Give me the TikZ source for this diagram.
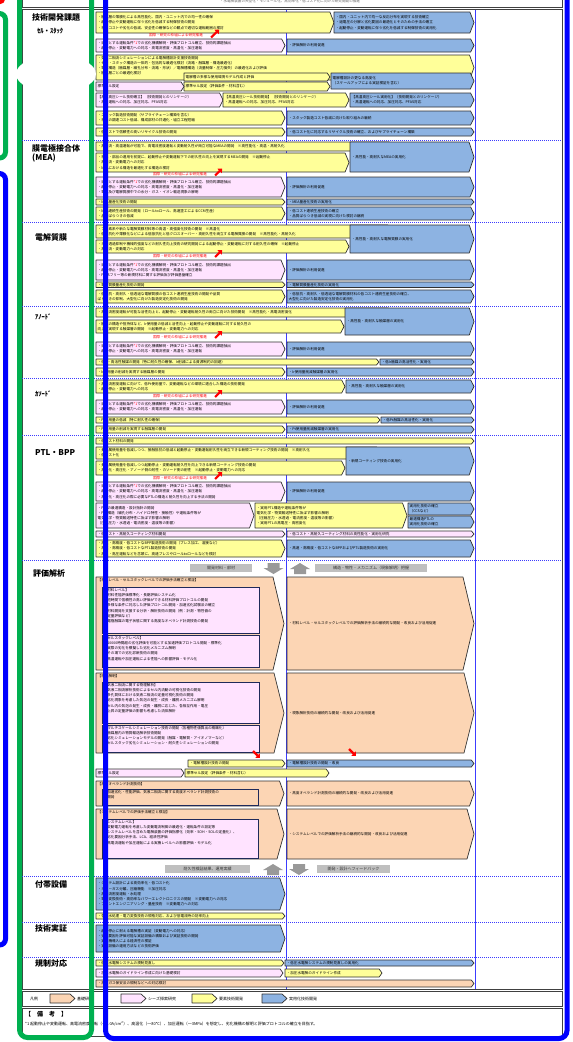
\documentclass[tikz,border=0pt]{standalone}
\usepackage{fontspec}
\newfontfamily\jp{Noto Sans CJK JP}
\usetikzlibrary{arrows.meta}
\XeTeXlinebreaklocale "ja"
\XeTeXlinebreakskip=0pt plus 0.5pt

\definecolor{rmyellow}{HTML}{FFFF99}
\definecolor{rmpink}{HTML}{FFE3FF}
\definecolor{rmblue}{HTML}{8DB3E2}
\definecolor{rmorange}{HTML}{FCD5B4}
\definecolor{boxline}{HTML}{303030}
\definecolor{subline}{HTML}{1F2A5A}
\definecolor{colblue}{HTML}{3C3CFF}
\definecolor{ovgreen}{HTML}{00B050}
\definecolor{ovblue}{HTML}{0000FF}

\tikzset{
  base/.style={draw=boxline, line width=0.7pt, line join=round},
  kiso/.style={base, fill=rmorange},
  seeds/.style={base, fill=rmpink},
  yoso/.style={base, fill=rmyellow},
  jitsuyo/.style={base, fill=rmblue},
  subbox/.style={draw=subline, line width=0.7pt, fill=rmpink},
  subkiso/.style={draw=subline, line width=0.7pt, fill=rmorange},
  boxtext/.style={inner sep=0pt, align=left, font=\jp\fontsize{3.6}{5.2}\selectfont, text=black},
  redlbl/.style={inner sep=0pt, font=\jp\fontsize{3.6}{4}\selectfont, text=red},
  redarr/.style={draw=red, line width=2.2pt, -{Triangle[length=3.5pt,width=6pt]}},
  graylbl/.style={fill=black!25, inner sep=0pt, minimum height=8pt, font=\jp\fontsize{4}{5}\selectfont, text=black!80},
  grayarr/.style={fill=black!40},
  catlbl/.style={inner sep=0pt, align=left, font=\jp\fontsize{8}{9.5}\selectfont\bfseries},
  sublbl/.style={inner sep=0pt, font=\jp\fontsize{6.5}{7}\selectfont\bfseries},
  legtext/.style={inner sep=0pt, font=\jp\fontsize{4}{5}\selectfont},
  tableframe/.style={draw=black!75, line width=0.6pt},
  colline/.style={draw=colblue, line width=0.6pt},
  sepline/.style={draw=colblue, line width=0.6pt, dash pattern=on 1pt off 1pt}
}

\newcounter{rmbox}
\newcommand{\rmbox}[6]{%
  \stepcounter{rmbox}%
  \pgfmathsetmacro{\rmtip}{min(2+0.1*(#5-#3),11)}%
  \pgfmathsetmacro{\rmtw}{#4-#2-\rmtip-2.5}%
  \draw[#1] (#2,#3) -- ({#4-\rmtip},#3) -- (#4,{(#3+#5)/2}) -- ({#4-\rmtip},#5) -- (#2,#5) -- cycle;
  \node[boxtext, text width=\rmtw pt, anchor=west] (box\arabic{rmbox}) at ({#2+1.5},{(#3+#5)/2}) {#6};
}
\newcommand{\rmboxtop}[6]{%
  \stepcounter{rmbox}%
  \pgfmathsetmacro{\rmtip}{min(2+0.1*(#5-#3),11)}%
  \pgfmathsetmacro{\rmtw}{#4-#2-\rmtip-2.5}%
  \draw[#1] (#2,#3) -- ({#4-\rmtip},#3) -- (#4,{(#3+#5)/2}) -- ({#4-\rmtip},#5) -- (#2,#5) -- cycle;
  \node[boxtext, text width=\rmtw pt, anchor=north west] (box\arabic{rmbox}) at ({#2+1.5},{#3+1}) {#6};
}
\newcommand{\rmsub}[6]{%
  \stepcounter{rmbox}%
  \pgfmathsetmacro{\rmtw}{#4-#2-3}%
  \draw[#1] (#2,#3) rectangle (#4,#5);
  \node[boxtext, text width=\rmtw pt, anchor=north west] (box\arabic{rmbox}) at ({#2+1.5},{#3+1}) {#6};
}
\newcommand{\legbox}[3]{%
  \stepcounter{rmbox}%
  \draw[#1] (#2,994) -- ({#2+20},994) -- ({#2+25},998.5) -- ({#2+20},1003) -- (#2,1003) -- cycle;
  \node[legtext, anchor=west] (leg\arabic{rmbox}) at ({#2+27},998.5) {#3};
}
\newcommand{\graydown}[3]{%
  \fill[grayarr] ({#1-6},#2) -- ({#1+6},#2) -- ({#1+6},{#2+5}) -- ({#1+10},{#2+5}) -- (#1,#3) -- ({#1-10},{#2+5}) -- ({#1-6},{#2+5}) -- cycle;
}
\newcommand{\grayup}[3]{%
  \fill[grayarr] ({#1-6},#3) -- ({#1+6},#3) -- ({#1+6},{#3-5}) -- ({#1+10},{#3-5}) -- (#1,#2) -- ({#1-10},{#3-5}) -- ({#1-6},{#3-5}) -- cycle;
}
\newcommand{\goal}{・目標とする運転条件\textcolor{red}{*1}での劣化機構解明・評価プロトコル確立、技術的課題抽出\\・起動停止・変動電力への対応・高電流密度・高温化・加圧運転}

\begin{document}
\begin{tikzpicture}[x=1pt, y=-1pt]
\useasboundingbox (0,0) rectangle (573,1042);

% table
\draw[tableframe] (22,-5) rectangle (562,7);
\node[boxtext, text=black!60, anchor=center] (head) at (290,1.5) {・水電解装置の大型化・モジュール化、高効率化・低コスト化に向けた研究開発の推進};
\draw[tableframe] (22,9.5) rectangle (562,989);
\draw[colline] (93,9.5) -- (93,989);
\draw[colline] (286,9.5) -- (286,989);
\draw[colline] (475,9.5) -- (475,989);
\foreach \y in {140,222,306,378,435,560,876,922,957}
  \draw[sepline] (22,\y) -- (562,\y);

% categories
\node[catlbl, anchor=west] (cat0) at (32,17) {技術開発課題};
\node[sublbl, anchor=west] (cat1) at (37,31) {ｾﾙ・ｽﾀｯｸ};
\node[catlbl, anchor=north west] (cat2) at (32,144) {膜電極接合体\\(MEA)};
\node[catlbl, anchor=west] (cat3) at (35,237) {電解質膜};
\node[sublbl, anchor=west] (cat4) at (35,317) {ｱﾉｰﾄﾞ};
\node[sublbl, anchor=west] (cat5) at (35,394) {ｶｿｰﾄﾞ};
\node[catlbl, anchor=west] (cat6) at (35,453) {PTL・BPP};
\node[catlbl, anchor=west] (cat7) at (33,573) {評価解析};
\node[catlbl, anchor=west] (cat8) at (35,884) {付帯設備};
\node[catlbl, anchor=west] (cat9) at (35,928) {技術実証};
\node[catlbl, anchor=west] (cat10) at (35,963) {規制対応};

% cell / stack
\rmbox{yoso}{96}{12}{334}{33}{・触媒層の薄膜化による高性能化、国内・ユニット内での均一性の確保\\・起動停止や変動運転に伴う劣化を低減する制御技術の開発\\・材料コストや劣化の低減、安全性の確保などの観点で適切な運転範囲の検討}
\rmbox{jitsuyo}{334}{12}{474}{33}{・国内・ユニット内で均一な反応分布を実現する技術確立\\・過電圧の分解と劣化要因の最適化とそのための手法の確立\\・起動停止・変動運転に伴う劣化を低減する制御技術の実用化}
\node[redlbl] (red1) at (176,35.5) {国際・研究の枠組による研究推進};
\draw[redarr] ([xshift=8pt,yshift=-2pt]red1.east) -- ++(8,-8);
\rmbox{seeds}{96}{39}{285}{52}{\goal}
\rmbox{jitsuyo}{287}{39}{474}{52}{・評価解析の利用促進}
\rmboxtop{yoso}{96}{55}{474}{80}{・気液二相流シミュレーションによる電解槽設計支援技術開発\\・セル・スタック構造の一体的・包括的な最適化検討（流路・触媒層・構造最適化）\\・電解構造（触媒層・細孔分布・流路・形状）／電解槽構造（流量制御・圧力損失）の最適化および評価\\・触媒層ごとの最適化検討}
\rmbox{yoso}{184}{73}{330}{81}{電解槽の多様な使用環境モデル作成と評価}
\rmbox{yoso}{184}{82}{330}{91}{標準セル設定（評価条件・材料含む）}
\rmbox{seeds}{96}{82}{184}{91}{標準セル設定}
\rmbox{jitsuyo}{331}{73}{474}{89}{電解槽設計の更なる高度化\\（スケールアップによる実証検証を含む）}
\rmbox{seeds}{96}{93}{223}{107}{【高温高圧シール技術確立】（技術開発とのリンケージ）\\・高温運転への対応、加圧対応、PFAS対応}
\rmbox{yoso}{223}{93}{349}{107}{【高温高圧シール技術開発】（技術開発とのリンケージ）\\・高温運転への対応、加圧対応、PFAS対応}
\rmbox{jitsuyo}{350}{93}{474}{107}{【高温高圧シール実用化】（技術開発とのリンケージ）\\・高温運転への対応、加圧対応、PFAS対応}
\rmbox{yoso}{96}{111}{285}{125}{・スタック製造技術開発（サプライチェーン構築を含む）\\・材料の調達コスト低減、構成部材の共通化・組立工程短縮}
\rmbox{jitsuyo}{287}{111}{474}{125}{・スタック製造コスト低減に向けた取り組みの継続}
\rmbox{yoso}{96}{128}{285}{136}{・低コストで信頼性の高いリサイクル技術の開発}
\rmbox{jitsuyo}{287}{128}{474}{136}{・低コスト化に対応するリサイクル技術の確立、およびサプライチェーン構築}

% MEA
\rmbox{yoso}{96}{142}{392}{151}{・高電流・高温運転が可能で、高電流密度運転と変動耐久性が両立可能なMEAの開発　※高性能化・高温・高耐久化}
\rmbox{yoso}{96}{153}{349}{172}{・材料・部品の適用を前提に、起動停止や変動運転下での耐久性の向上を実現するMEAの開発　※起動停止\\・高電流・変動電力への対応\\・MEAにおける構造を最適化する構造の検討}
\rmbox{jitsuyo}{350}{142}{474}{172}{・高性能・高耐久なMEAの実用化}
\node[redlbl] (red2) at (180,174.5) {国際・研究の枠組による研究推進};
\draw[redarr] ([xshift=8pt,yshift=-1pt]red2.east) -- ++(7,-7);
\rmbox{seeds}{96}{177}{285}{197}{\goal\\・電極及び電解質膜中での水分・ガス・イオン輸送現象の解明}
\rmbox{jitsuyo}{287}{177}{474}{197}{・評価解析の利用促進}
\rmbox{yoso}{96}{199}{285}{205}{・MEA量産化技術の開発}
\rmbox{jitsuyo}{287}{199}{474}{205}{・MEA量産化技術の実用化}
\rmbox{yoso}{96}{207}{285}{220}{・MEA連続生産技術の開発（ロールtoロール、高速塗工によるCCM生産）\\・品質ばらつきの低減}
\rmbox{jitsuyo}{287}{207}{474}{220}{・低コスト連続生産技術の確立\\・品質ばらつき低減の実現に向けた検討の継続}

% membrane
\rmbox{yoso}{96}{225}{391}{238}{・フッ素系や新たな電解質膜材料等の高温・高強度化技術の開発　※高温化\\・低抵抗化や薄膜化などによる低抵抗化と低クロスオーバー・高耐久性を両立する電解質膜の開発　※高性能化・高耐久化}
\rmbox{yoso}{96}{240}{349}{253}{・ガス透過抑制や機械的強度などの耐久性向上技術の研究開発による起動停止・変動運転に対する耐久性の確保　※起動停止\\・高電流・変動電力への対応}
\rmbox{jitsuyo}{350}{225}{474}{253}{・高性能・高耐久な電解質膜の実用化}
\node[redlbl] (red3) at (180,256) {国際・研究の枠組による研究推進};
\draw[redarr] ([xshift=8pt,yshift=-1pt]red3.east) -- ++(7,-7);
\rmbox{seeds}{96}{260}{285}{280}{\goal\\・PFASフリー等の新規材料に関する評価及び評価基盤確立}
\rmbox{jitsuyo}{287}{260}{474}{280}{・評価解析の利用促進}
\rmbox{yoso}{96}{282}{285}{287.5}{・電解質膜量産化技術の開発}
\rmbox{jitsuyo}{287}{282}{474}{287.5}{・電解質膜量産化技術の実用化}
\rmbox{yoso}{96}{290}{285}{303}{・低抵抗・高耐久・低透過な電解質膜の低コスト連続生産技術の開発や品質\\ばらつきの抑制、大型化に向けた製造安定化技術の開発}
\rmbox{jitsuyo}{287}{290}{474}{303}{・低抵抗・高耐久・低透過な電解質膜材料の低コスト連続生産技術の確立、\\大型化に向けた製造安定化技術の実用化}

% anode
\rmbox{yoso}{96}{308}{391}{317}{・高電流密度運転が可能な活性向上と、起動停止・変動運転耐久性の両立に向けた技術開発　※高性能化・高電流密度化}
\rmbox{yoso}{96}{320}{344}{333}{・触媒の構造や担持体など、Ir使用量の低減と活性向上・起動停止や変動運転に対する耐久性の\\向上を実現する触媒層の開発　※起動停止・変動電力への対応}
\rmbox{jitsuyo}{345}{308}{474}{335}{・高性能・高耐久な触媒層の実用化}
\node[redlbl] (red4) at (180,337) {国際・研究の枠組による研究推進};
\draw[redarr] ([xshift=8pt,yshift=-1pt]red4.east) -- ++(7,-7);
\rmbox{seeds}{96}{342}{285}{356}{\goal}
\rmbox{jitsuyo}{287}{342}{474}{356}{・評価解析の利用促進}
\rmbox{yoso}{96}{359}{379}{365}{・低Ir・高活性触媒の開発（特に耐久性の確保、Ir削減による資源制約の回避）}
\rmbox{jitsuyo}{380}{359}{474}{365}{・低Ir触媒の高活性化・実用化}
\rmbox{yoso}{96}{368}{285}{376}{・Ir使用量の削減を実現する触媒層の開発}
\rmbox{jitsuyo}{287}{368}{474}{376}{・Ir使用量削減触媒層の実用化}

% cathode
\rmbox{yoso}{96}{380}{345}{393}{・高電流密度運転に向けて、低Pt使用量で、変動運転などの環境に適合した構造の技術開発\\・起動停止・変動電力への対応}
\rmbox{jitsuyo}{346}{380}{474}{393}{・高性能・高耐久な触媒層の実用化}
\node[redlbl] (red5) at (180,396) {国際・研究の枠組による研究推進};
\draw[redarr] ([xshift=8pt,yshift=-1pt]red5.east) -- ++(7,-7);
\rmbox{seeds}{96}{400}{285}{414}{\goal}
\rmbox{jitsuyo}{287}{400}{474}{414}{・評価解析の利用促進}
\rmbox{yoso}{96}{417}{380}{423}{・Pt使用量の低減（特に耐久性の確保）}
\rmbox{jitsuyo}{381}{417}{474}{423}{・低Pt触媒の高活性化・実用化}
\rmbox{yoso}{96}{426}{285}{433}{・Pt使用量の削減を実現する触媒層の開発}
\rmbox{jitsuyo}{287}{426}{474}{433}{・Pt使用量削減触媒層の実用化}

% PTL / BPP
\rmbox{yoso}{96}{438}{474}{444}{・低コスト材料の開発}
\rmbox{yoso}{96}{447}{380}{459}{・貴金属使用量を低減しつつ、接触抵抗の低減と起動停止・変動運転耐久性を両立できる新規コーティング技術の開発　※高耐久化\\・低コスト化}
\rmbox{yoso}{96}{461}{345}{475}{・貴金属使用量を低減しつつ起動停止・変動運転耐久性を向上できる新規コーティング技術の開発\\・高温化・高圧化・アノード側の耐性・カソード側の耐性　※起動停止・変動電力への対応}
\rmbox{jitsuyo}{346}{447}{474}{475}{・新規コーティング技術の実用化}
\node[redlbl] (red6) at (180,478) {国際・研究の枠組による研究推進};
\draw[redarr] ([xshift=8pt,yshift=-1pt]red6.east) -- ++(7,-7);
\rmbox{seeds}{96}{482}{285}{501}{\goal\\・高温化・高圧化の際に必要なPTLの構造と耐久性を向上する手法の開発}
\rmbox{jitsuyo}{287}{482}{474}{501}{・評価解析の利用促進}
\rmbox{seeds}{96}{503}{254}{528}{・PTLの最適構造・設計指針の開発\\・PTL構造（細孔分布・ハイドロ特性・接触性）や運転条件等が\\電気化学・物質輸送特性に及ぼす影響の解明\\（圧縮圧力・水透過・電流密度・温度等の影響）}
\rmbox{yoso}{255}{503}{407}{528}{・実用PTL構造や運転条件等が\\電気化学・物質輸送特性に及ぼす影響の解明\\（圧縮圧力・水透過・電流密度・温度等の影響）\\・実用PTLの高電圧・高密度化}
\rmbox{jitsuyo}{408}{503}{474}{515}{実用化技術の確立\\（CCSなど）}
\rmbox{jitsuyo}{408}{516}{474}{528}{最適構造PTLの\\実用化技術の確立}
\rmbox{seeds}{96}{531}{285}{537}{・低コスト・高耐久コーティング材料開発}
\rmbox{seeds}{287}{531}{474}{537}{・低コスト・高耐久コーティング材料の高性能化・実用化研究}
\rmbox{yoso}{96}{540}{285}{557}{・高速・高精度・低コストなBPP製造技術の開発（プレス加工、溶接など）\\・高速・高精度・低コストなPTL製造技術の開発\\・高温・高圧運転などを念頭に、高速プレスやロールtoロールなどを検討}
\rmbox{jitsuyo}{287}{540}{474}{557}{・高速・高精度・低コストなBPPおよびPTL製造技術の実用化}

% evaluation
\node[graylbl, minimum width=62pt] (gray1) at (221,568) {開発材料・部材};
\graydown{273.5}{563}{574}
\grayup{300}{563}{574}
\node[graylbl, minimum width=112pt] (gray2) at (371,568) {構造・物性・メカニズム（現象解明）把握};
\rmboxtop{kiso}{96}{577}{284}{670}{【材料レベル・セルスタックレベルでの評価手法確立と検証】}
\rmsub{subbox}{102}{587}{259}{633}{【材料レベル】\\・材料性能評価標準化・長期評価システム化\\・短時間で信頼性の高い評価ができる材料評価プロトコルの開発\\・多様な条件に対応した評価プロトコル開発・加速劣化試験法の確立\\・材料開発を支援する分析・解析技術の開発（例：計測・物性値の\\　定量評価など）\\・電極触媒の電子状態に関する高度なオペランド計測技術の開発}
\rmsub{subbox}{102}{635}{259}{667}{【セルスタックレベル】\\・10000時間超の劣化評価を可能とする加速評価プロトコル開発・標準化\\・実際の劣化を模擬した劣化メカニズム解明\\・その場での劣化診断技術の開発\\・高温運転や加圧運転による性能への影響評価・モデル化}
\rmbox{kiso}{287}{577}{474}{670}{・材料レベル・セルスタックレベルでの評価解析手法の継続的な開発・改良および活用促進}
\rmboxtop{kiso}{96}{673}{284}{753}{【現象解明】}
\rmsub{subbox}{102}{682}{259}{723}{【気液二相流に関する物理解析】\\・気液二相流解析技術によるセル内流動の可視化技術の開発\\・多孔質体における気液二相流の定量可視化技術の開発\\・劣化現象を考慮した気泡の発生・成長・離脱メカニズム解明\\・セル内の気泡の発生・成長・離脱に応じた、各相互作用・電圧\\　上昇の定量評価の影響も考慮した流体解析}
\rmsub{subbox}{102}{725}{259}{752}{・マルチスケールシミュレーション技術の開発（各種物性値算出の精緻化）\\・触媒層内の物質輸送解析技術開発\\・劣化シミュレーションモデルの開発（触媒・電解質・アイオノマーなど）\\・セルスタック劣化シミュレーション・耐久性シミュレーションの開発}
\rmbox{kiso}{287}{673}{474}{753}{・現象解析技術の継続的な開発・改良および活用促進}
\coordinate (eva1) at (253,751);
\coordinate (eva2) at (349,749);
\draw[redarr] (eva1) -- ++(7,7);
\draw[redarr] (eva2) -- ++(7,7);
\rmbox{yoso}{188}{760}{285}{767}{・電解槽設計技術の開発}
\rmbox{jitsuyo}{287}{760}{474}{767}{・電解槽設計技術の開発・改良}
\rmbox{seeds}{96}{769}{184}{777}{標準セル設定}
\rmbox{yoso}{185}{769}{329}{777}{標準セル設定（評価条件・材料含む）}
\rmboxtop{kiso}{96}{781}{284}{806}{【高度オペランド計測技術】}
\rmsub{subkiso}{102}{789}{258}{805}{・加速劣化・性能評価、気液二相流に関する高度オペランド計測技術の\\　開発}
\rmbox{kiso}{287}{781}{474}{806}{・高度オペランド計測技術の継続的な開発・改良および活用促進}
\rmboxtop{kiso}{96}{809}{284}{859}{【システムレベルでの評価手法確立と検証】}
\rmsub{subbox}{102}{819}{258}{858}{【システムレベル】\\・変動電力運転を考慮した変動電流制御の最適化・運転条件の設定等\\・システムレベルを含めた電解装置の評価指標化（効率・SOH・SOLの定量化）、\\　劣化要因分析手法、LCA、経済性評価\\・高電流運転や加圧運転による実機レベルへの影響評価・モデル化}
\rmbox{kiso}{287}{809}{474}{859}{・システムレベルでの評価解析手法の継続的な開発・改良および活用促進}
\node[graylbl, minimum width=85pt] (gray3) at (207.5,869) {耐久性検証結果、運用実績};
\grayup{273}{864}{875}
\graydown{299}{864}{875}
\node[graylbl, minimum width=73pt] (gray4) at (353.5,869) {開発・設計へフィードバック};

% balance of plant, demonstration, regulation
\rmbox{jitsuyo}{96}{878}{285}{910}{・システム設計による高効率化・低コスト化\\・ガス－ガス分離、圧縮機能　※加圧対応\\・高電流密度運転・水処理\\・電力変換技術・高効率なパワーエレクトロニクスの開発　※変動電力への対応\\・プラントエンジニアリング・量産技術　※変動電力への対応}
\rmbox{yoso}{96}{913}{285}{919}{・各種水処理・電力変換技術の規格対応、および低電流時の効率向上}
\rmbox{jitsuyo}{96}{925}{285}{952}{・起動停止に耐える電解槽の実証（変動電力への対応）\\・劣化要因を評価可能な実証設備の構築および実証技術の開発\\・実証機導入による経済性の検証\\・実証設備の運用方法などの技術評価}
\rmbox{yoso}{96}{960}{284}{966}{・低圧水電解システムの規制見直し}
\rmbox{jitsuyo}{285}{960}{474}{966}{・低圧水電解システムの規制見直しの実用化}
\rmbox{seeds}{96}{969}{283}{977}{・加圧水電解のガイドライン作成に向けた基礎検討}
\rmbox{yoso}{285}{969}{382}{977}{・加圧水電解のガイドライン作成}
\rmbox{kiso}{96}{980}{474}{987}{・高圧ガス保安法の規制などへの対応検討}

% legend and notes
\draw[tableframe] (22,991) rectangle (562,1006);
\node[legtext, anchor=west] (leg0) at (30,998.5) {凡例};
\legbox{kiso}{50}{基礎研究}
\legbox{seeds}{121}{シーズ探索研究}
\legbox{yoso}{192}{要素技術開発}
\legbox{jitsuyo}{262}{実用化技術開発}
\draw[tableframe] (22,1008) rectangle (562,1036);
\node[inner sep=0pt, font=\jp\fontsize{6}{7}\selectfont\bfseries, anchor=west] (note0) at (25,1014) {【　備　考　】};
\node[legtext, anchor=west] (note1) at (25,1024) {*1 起動停止や変動運転、高電流密度運転（～4.0A/cm\textsuperscript{2}）、高温化（～80℃）、加圧運転（～3MPa）を想定し、劣化機構の解明と評価プロトコルの確立を目指す。};

% marks
\draw[ovgreen, line width=5pt, rounded corners=8pt] (19.5,-30) rectangle (91.5,1037.5);
\draw[ovblue, line width=5pt, rounded corners=8pt] (105.5,-30) rectangle (567,1038.5);
\draw[ovgreen, line width=5pt, rounded corners=6pt] (-30,13.5) rectangle (5.5,158);
\draw[ovblue, line width=5pt, rounded corners=6pt] (-30,173.5) rectangle (5.5,945);
\draw[red, line width=4pt, rounded corners=3pt] (-30,-30) rectangle (3,2);
\fill[white] (56,74) ellipse (40 and 19);
\end{tikzpicture}
\end{document}
